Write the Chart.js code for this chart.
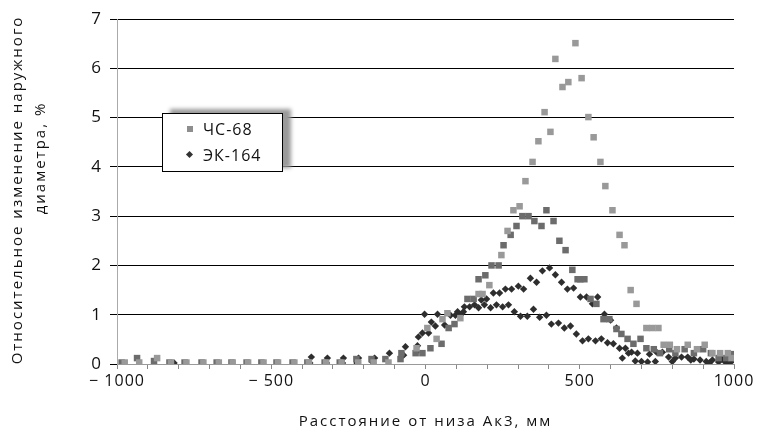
<!DOCTYPE html>
<html>
<head>
<meta charset="utf-8">
<script src="https://cdn.jsdelivr.net/npm/chart.js@4"></script>
<style>
  body { margin: 0; background: #fff; }
  #wrap { position: relative; width: 760px; height: 440px; }
  #legend {
    position: absolute; left: 162px; top: 113px; width: 119px; height: 57px;
    background: #fff; border: 1px solid #000;
    box-shadow: 8px -4px 4px #9a9a9a;
    font-family: "Open Sans", sans-serif; font-size: 16px; letter-spacing: 1px; color: #111;
  }
  .item { position: absolute; left: 21px; line-height: 20px; }
  .item span { position: absolute; left: 19px; white-space: nowrap; }
  .sq { position: absolute; left: 3px; top: 7px; width: 6px; height: 6px; background: #8e8e8e; }
  .dm { position: absolute; left: 3px; top: 7px; width: 5px; height: 5px; background: #333; transform: rotate(45deg); }
</style>
</head>
<body>
<div id="wrap">
  <canvas id="chart" width="760" height="440"></canvas>
  <div id="legend">
    <div class="item" style="top:5px"><div class="sq"></div><span>ЧС-68</span></div>
    <div class="item" style="top:31px"><div class="dm"></div><span>ЭК-164</span></div>
  </div>
</div>
<script>
// Расстояние (мм), относительное изменение диаметра (%)
const seriesNames = ['ЧС-68', 'ЭК-164'];

// ЧС-68, первый образец (светлые квадраты)
const chsLight = [
  [-975, 0.03], [-928, 0.03], [-870, 0.12], [-825, 0.03], [-775, 0.03], [-720, 0.03],
  [-670, 0.03], [-625, 0.03], [-575, 0.03], [-525, 0.03], [-478, 0.03], [-425, 0.03],
  [-378, 0.03], [-322, 0.03], [-272, 0.03], [-218, 0.03], [-168, 0.03], [-120, 0.03],
  [-29, 0.32], [6, 0.73], [36, 0.51], [55, 0.91], [71, 1.03], [113, 0.93], [172, 1.42],
  [185, 1.42], [207, 1.6], [246, 2.21], [266, 2.7], [285, 3.12], [305, 3.2], [324, 3.71],
  [347, 4.1], [366, 4.52], [386, 5.11], [405, 4.71], [421, 6.19], [444, 5.62], [463, 5.72],
  [486, 6.51], [506, 5.8], [528, 5.01], [545, 4.6], [567, 4.1], [583, 3.61], [606, 3.12],
  [629, 2.62], [645, 2.41], [665, 1.5], [684, 1.22], [716, 0.73], [735, 0.73], [755, 0.73],
  [772, 0.39], [792, 0.39], [815, 0.3], [850, 0.39], [880, 0.3], [905, 0.39], [930, 0.22],
  [955, 0.22], [980, 0.22], [992, 0.12]
];

// ЧС-68, второй образец (тёмные квадраты)
const chsDark = [
  [-985, 0.03], [-935, 0.12], [-880, 0.06], [-830, 0.03], [-781, 0.03], [-726, 0.03],
  [-677, 0.03], [-629, 0.03], [-580, 0.03], [-532, 0.03], [-483, 0.03], [-431, 0.03],
  [-383, 0.03], [-327, 0.03], [-278, 0.03], [-224, 0.1], [-175, 0.1], [-130, 0.1],
  [-81, 0.1], [-78, 0.22], [-32, 0.22], [-10, 0.22], [16, 0.32], [52, 0.41], [75, 0.73],
  [94, 0.81], [136, 1.32], [156, 1.32], [172, 1.72], [194, 1.8], [214, 2.0], [237, 2.0],
  [253, 2.41], [276, 2.62], [295, 2.8], [314, 3.0], [334, 3.0], [353, 2.9], [376, 2.8],
  [392, 3.12], [415, 2.9], [434, 2.5], [454, 2.31], [476, 1.91], [493, 1.72], [502, 1.72],
  [515, 1.72], [535, 1.32], [554, 1.22], [577, 0.91], [596, 0.91], [619, 0.71], [635, 0.61],
  [655, 0.51], [674, 0.41], [697, 0.51], [716, 0.32], [740, 0.3], [760, 0.22], [790, 0.3],
  [810, 0.22], [840, 0.3], [870, 0.22], [900, 0.3], [925, 0.22], [950, 0.12], [975, 0.12],
  [995, 0.2]
];

// ЭК-164 (ромбы)
const ek164 = [
  [-815, 0.02], [-370, 0.14], [-375, 0.02], [-318, 0.12], [-321, 0.02], [-266, 0.12],
  [-269, 0.02], [-217, 0.12], [-222, 0.02], [-165, 0.12], [-172, 0.04], [-117, 0.22],
  [-65, 0.35], [-71, 0.18], [-29, 0.25], [-26, 0.37], [-23, 0.55], [-10, 0.63], [10, 0.63],
  [-3, 1.01], [39, 1.01], [19, 0.85], [32, 0.77], [62, 0.79], [81, 0.99], [97, 0.99],
  [113, 0.99], [104, 1.06], [123, 1.06], [126, 1.16], [143, 1.16], [159, 1.2], [172, 1.14],
  [181, 1.3], [198, 1.32], [191, 1.2], [211, 1.14], [230, 1.2], [250, 1.16], [269, 1.2],
  [288, 1.06], [308, 0.97], [330, 0.97], [350, 1.11], [370, 0.95], [392, 0.99], [408, 0.81],
  [431, 0.83], [450, 0.73], [470, 0.77], [489, 0.61], [509, 0.47], [528, 0.51], [551, 0.47],
  [570, 0.51], [590, 0.43], [609, 0.41], [629, 0.32], [648, 0.32], [668, 0.24], [687, 0.22],
  [726, 0.2], [749, 0.24], [768, 0.24], [788, 0.14], [810, 0.12], [830, 0.14], [850, 0.14],
  [870, 0.1], [890, 0.08], [910, 0.05], [930, 0.08], [950, 0.04], [970, 0.05], [990, 0.04],
  [220, 1.44], [240, 1.44], [259, 1.52], [279, 1.52], [301, 1.58], [318, 1.52], [340, 1.74],
  [360, 1.66], [379, 1.89], [402, 1.95], [421, 1.81], [441, 1.66], [460, 1.52], [480, 1.54],
  [502, 1.36], [522, 1.36], [541, 1.22], [558, 1.36], [580, 1.01], [600, 0.89], [619, 0.73],
  [638, 0.12], [658, 0.22], [680, 0.06], [700, 0.05], [720, 0.04], [745, 0.05], [800, 0.05],
  [860, 0.08], [920, 0.02], [960, 0.1], [980, 0.02]
];

const xTitle = 'Расстояние от низа Ак3, мм';
const yTitle = ['Относительное изменение наружного', 'диаметра, %'];

const toPts = arr => arr.map(p => ({ x: p[0], y: p[1] }));
const FONT = '"Open Sans", sans-serif';

// подписи осей рисуем сами: нужен разреженный шрифт
const axisTitles = {
  id: 'axisTitles',
  beforeDraw(chart) {
    chart.ctx.letterSpacing = '1px';
  },
  afterDraw(chart) {
    const ctx = chart.ctx;
    const area = chart.chartArea;
    ctx.save();
    ctx.letterSpacing = '2px';
    ctx.font = '15px ' + FONT;
    ctx.fillStyle = '#111';
    ctx.textAlign = 'center';
    ctx.textBaseline = 'middle';
    ctx.fillText(xTitle, (area.left + area.right) / 2, 422);

    ctx.translate(18, 190);
    ctx.rotate(-Math.PI / 2);
    ctx.fillText(yTitle[0], 0, 0);
    ctx.fillText(yTitle[1], 32, 23);
    ctx.restore();
    ctx.letterSpacing = '0px';
  }
};

new Chart(document.getElementById('chart'), {
  type: 'scatter',
  data: {
    datasets: [
      {
        label: seriesNames[0],
        data: toPts(chsLight),
        pointStyle: 'rect',
        pointRadius: 4.6,
        backgroundColor: '#999999',
        borderWidth: 0
      },
      {
        label: seriesNames[0] + ' (2)',
        data: toPts(chsDark),
        pointStyle: 'rect',
        pointRadius: 4.6,
        backgroundColor: '#6c6c6c',
        borderWidth: 0
      },
      {
        label: seriesNames[1],
        data: toPts(ek164),
        pointStyle: 'rectRot',
        pointRadius: 3.7,
        backgroundColor: '#2e2e2e',
        borderWidth: 0
      }
    ]
  },
  options: {
    responsive: false,
    animation: false,
    layout: { padding: { left: 0, top: 19, right: 26, bottom: 0 } },
    plugins: {
      legend: { display: false },
      tooltip: { enabled: false }
    },
    scales: {
      x: {
        type: 'linear',
        min: -1000,
        max: 1000,
        afterFit: s => { s.height = 76; },
        ticks: {
          stepSize: 100,
          autoSkip: false,
          maxRotation: 0,
          color: '#111',
          font: { family: FONT, size: 16 },
          padding: 3,
          callback: v => (v % 500 === 0 ? (v < 0 ? '\u2212 ' + Math.abs(v) : String(v)) : '')
        },
        grid: { drawOnChartArea: false, color: '#888', tickLength: 5 },
        border: { color: '#999' }
      },
      y: {
        min: 0,
        max: 7,
        afterFit: s => { s.width = 117; },
        ticks: {
          stepSize: 1,
          color: '#111',
          font: { family: FONT, size: 17 },
          padding: 8
        },
        grid: { color: '#000', tickLength: 7 },
        border: { color: '#aaa' }
      }
    }
  },
  plugins: [axisTitles]
});
</script>
</body>
</html>
